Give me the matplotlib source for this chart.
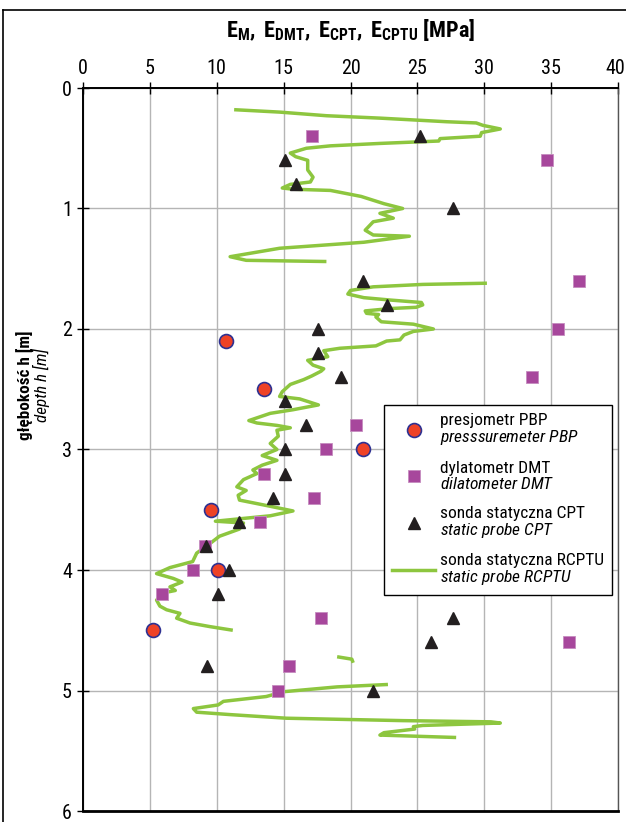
import numpy as np
import matplotlib
matplotlib.use('Agg')
import matplotlib.pyplot as plt
import matplotlib.transforms as mtransforms
from matplotlib import font_manager
from matplotlib.lines import Line2D


def pick_font():
    # look for a narrow / condensed sans among the installed fonts
    entries = font_manager.fontManager.ttflist
    names = {f.name for f in entries}
    for n in ['Liberation Sans Narrow', 'Roboto Condensed', 'Open Sans Condensed',
              'Noto Sans Condensed', 'DejaVu Sans Condensed', 'Arial Narrow']:
        if n in names:
            return n, 'normal'
    for n in ['Roboto', 'Noto Sans', 'Open Sans', 'DejaVu Sans', 'Lato', 'Inter']:
        for f in entries:
            if f.name == n and str(f.stretch) in ('condensed', 'semi-condensed', 'extra-condensed'):
                return n, 'condensed'
    return 'Liberation Sans', 'normal'


FONT, STRETCH = pick_font()
NARROW = STRETCH == 'condensed' or 'Narrow' in FONT or 'Condensed' in FONT
K = 1.0 if NARROW else 0.86  # shrink a wide fallback font

plt.rcParams['font.family'] = [FONT, 'DejaVu Sans']
plt.rcParams['font.stretch'] = STRETCH
suffix = ':condensed' if STRETCH == 'condensed' else ''
plt.rcParams['mathtext.fontset'] = 'custom'
plt.rcParams['mathtext.rm'] = FONT + suffix
plt.rcParams['mathtext.it'] = FONT + ':italic' + suffix
plt.rcParams['mathtext.bf'] = FONT + ':bold' + suffix

# presjometr PBP
pbp_e = [10.7, 13.5, 20.9, 9.6, 10.1, 5.2]
pbp_h = [2.1, 2.5, 3.0, 3.5, 4.0, 4.5]

# dylatometr DMT
dmt_e = [17.1, 34.7, 37.1, 35.5, 33.6, 20.4, 18.2, 13.5, 17.3, 13.2, 9.1, 8.2, 5.9, 17.8, 36.3, 15.4, 14.6]
dmt_h = [0.4, 0.6, 1.6, 2.0, 2.4, 2.8, 3.0, 3.2, 3.4, 3.6, 3.8, 4.0, 4.2, 4.4, 4.6, 4.8, 5.0]

# sonda statyczna CPT
cpt_e = [25.2, 15.1, 15.9, 27.7, 20.9, 22.7, 17.6, 17.6, 19.3, 15.1, 16.7, 15.1, 15.1, 14.2,
         11.7, 9.2, 10.9, 10.1, 27.7, 26.0, 9.3, 21.7]
cpt_h = [0.4, 0.6, 0.8, 1.0, 1.6, 1.8, 2.0, 2.2, 2.4, 2.6, 2.8, 3.0, 3.2, 3.4,
         3.6, 3.8, 4.0, 4.2, 4.4, 4.6, 4.8, 5.0]

# sonda statyczna RCPTU (four separate pieces)
rcptu_e1 = [11.3, 14.7, 18.2, 22.2, 27.2, 29.4, 29.9, 31.2, 29.8, 29.7, 26.7, 26.6, 22.2, 18.5,
            16.7, 15.5, 15.9, 16.8, 16.8, 17.2, 17.0, 15.5, 14.9, 15.7, 18.5, 20.8, 22.5, 23.9,
            22.2, 23.2, 21.7, 21.1, 21.7, 24.4, 21.0, 14.7, 11.0, 12.2, 18.2]
rcptu_h1 = [0.18, 0.20, 0.23, 0.25, 0.28, 0.29, 0.31, 0.34, 0.37, 0.40, 0.42, 0.44, 0.46, 0.48,
            0.50, 0.54, 0.57, 0.60, 0.68, 0.74, 0.78, 0.80, 0.83, 0.84, 0.85, 0.90, 0.96, 1.00,
            1.04, 1.08, 1.11, 1.18, 1.22, 1.23, 1.28, 1.33, 1.40, 1.43, 1.44]

rcptu_e2 = [30.2, 25.4, 21.7, 20.0, 19.8, 21.0, 23.0, 25.3, 25.4, 24.9, 23.0, 21.1, 21.2, 22.1,
            21.9, 22.3, 24.7, 26.2, 24.7, 24.0, 23.7, 22.7, 21.9, 19.2, 18.0, 18.3, 16.8, 17.2,
            18.0, 17.8, 17.1, 16.5, 15.5, 14.9, 14.7, 16.2, 17.6, 15.7, 14.0, 12.4, 13.0, 14.5,
            15.5, 14.5, 14.6, 14.0, 14.5, 13.4, 14.5, 13.4, 12.7, 13.0, 12.0, 11.5, 12.2, 11.6,
            11.7, 13.5, 15.7, 14.0, 9.9, 12.0, 11.7, 10.2, 9.5, 8.5, 8.2, 6.5, 5.5, 6.75,
            7.4, 6.5, 6.9, 6.0, 5.5, 5.75, 6.25, 7.25, 7.0, 8.0, 9.5, 11.2]
rcptu_h2 = [1.62, 1.63, 1.65, 1.68, 1.71, 1.74, 1.76, 1.78, 1.80, 1.82, 1.83, 1.85, 1.87, 1.88,
            1.90, 1.94, 1.96, 2.00, 2.02, 2.05, 2.09, 2.10, 2.14, 2.16, 2.18, 2.23, 2.26, 2.30,
            2.33, 2.35, 2.39, 2.42, 2.46, 2.52, 2.56, 2.58, 2.63, 2.67, 2.70, 2.76, 2.78, 2.80,
            2.82, 2.84, 2.89, 2.95, 3.00, 3.05, 3.09, 3.13, 3.17, 3.20, 3.25, 3.31, 3.34, 3.38,
            3.42, 3.46, 3.51, 3.55, 3.595, 3.61, 3.66, 3.72, 3.78, 3.86, 3.93, 3.98, 4.03, 4.07,
            4.10, 4.14, 4.17, 4.19, 4.25, 4.30, 4.33, 4.36, 4.40, 4.44, 4.47, 4.50]

rcptu_e3 = [19.0, 20.1, 20.2]
rcptu_h3 = [4.72, 4.74, 4.77]

rcptu_e4 = [22.8, 19.0, 15.0, 13.7, 10.5, 10.1, 8.25, 8.5, 11.0, 15.2, 23.9, 30.5, 31.2, 25.4,
            24.7, 24.8, 22.5, 22.2, 27.9]
rcptu_h4 = [4.95, 4.97, 5.01, 5.05, 5.09, 5.12, 5.15, 5.18, 5.20, 5.23, 5.25, 5.26, 5.27, 5.29,
            5.30, 5.32, 5.35, 5.37, 5.39]

GREEN = '#8dc63f'

fig = plt.figure(figsize=(6.26, 8.22), dpi=100)
ax = fig.add_axes([83 / 626, 1 - 811 / 822, 535 / 626, 723 / 822])

for e, h in [(rcptu_e1, rcptu_h1), (rcptu_e2, rcptu_h2), (rcptu_e3, rcptu_h3), (rcptu_e4, rcptu_h4)]:
    ax.plot(e, h, color=GREEN, lw=2.5, solid_joinstyle='round', solid_capstyle='butt', zorder=2)

ax.plot(dmt_e, dmt_h, 's', ms=8.5, color='#a7479c', mec='#c68cbf', mew=0.6, zorder=3)
ax.plot(pbp_e, pbp_h, 'o', ms=10, color='#ee4226', mec='#2e3192', mew=1.2, zorder=4)
ax.plot(cpt_e, cpt_h, '^', ms=9, color='#231f20', zorder=5)

ax.set_xlim(0, 40)
ax.set_ylim(6, 0)
ax.set_xticks(np.arange(0, 41, 5))
ax.set_yticks(np.arange(0, 7, 1))
ax.xaxis.tick_top()
ax.tick_params(axis='both', direction='inout', length=8, width=1, labelsize=14.5 * K, color='black')
ax.tick_params(axis='x', pad=3)
ax.tick_params(axis='y', pad=4)
ax.grid(True, color='#b5b5b5', lw=1)
ax.set_axisbelow(True)
for s in ['left', 'top']:
    ax.spines[s].set_linewidth(1.4)
ax.spines['bottom'].set_linewidth(2)
ax.spines['right'].set_linewidth(1)
ax.spines['right'].set_color('#555555')

# keep the last top label ("40") inside the picture
last = ax.xaxis.get_major_ticks()[-1].label2
last.set_transform(last.get_transform() + mtransforms.ScaledTranslation(-3 / 100, 0, fig.dpi_scale_trans))

fig.text(351 / 626, 1 - 30 / 822, r'$\mathbf{E_{M},\ E_{DMT},\ E_{CPT},\ E_{CPTU}\ [MPa]}$',
         ha='center', va='center', fontsize=16 * K)
fig.text(25 / 626, 1 - 385 / 822, 'głębokość h [m]', rotation=90, ha='center', va='center',
         fontsize=12.3 * K, fontweight='bold')
fig.text(41 / 626, 1 - 385 / 822, 'depth h [m]', rotation=90, ha='center', va='center',
         fontsize=12.3 * K, style='italic')

handles = [
    Line2D([], [], ls='none', marker='o', ms=10, color='#ee4226', mec='#2e3192', mew=1.2),
    Line2D([], [], ls='none', marker='s', ms=8.5, color='#a7479c', mec='#c68cbf', mew=0.6),
    Line2D([], [], ls='none', marker='^', ms=9, color='#231f20'),
    Line2D([], [], color=GREEN, lw=2.5),
]
labels = [
    'presjometr PBP\n$\\mathit{presssuremeter\\ PBP}$',
    'dylatometr DMT\n$\\mathit{dilatometer\\ DMT}$',
    'sonda statyczna CPT\n$\\mathit{static\\ probe\\ CPT}$',
    'sonda statyczna RCPTU\n$\\mathit{static\\ probe\\ RCPTU}$',
]
leg = ax.legend(handles, labels, loc='upper left', bbox_to_anchor=(301 / 535, 1 - 317 / 723),
                borderaxespad=0, fontsize=12.5 * K, frameon=True, fancybox=False, edgecolor='black',
                framealpha=1, handlelength=2.5 / K, handletextpad=0.3, borderpad=0.45,
                labelspacing=0.8)
for t in leg.get_texts():
    t.set_linespacing(1.0)
leg.get_frame().set_linewidth(1)
leg.set_zorder(10)

# outer frame of the figure
fig.add_artist(Line2D([3 / 626, 3 / 626], [0, 1 - 10 / 822], color='black', lw=1.2))
fig.add_artist(Line2D([3 / 626, 1], [1 - 10 / 822, 1 - 10 / 822], color='black', lw=1.2))

fig.savefig('out.png', dpi=100)
